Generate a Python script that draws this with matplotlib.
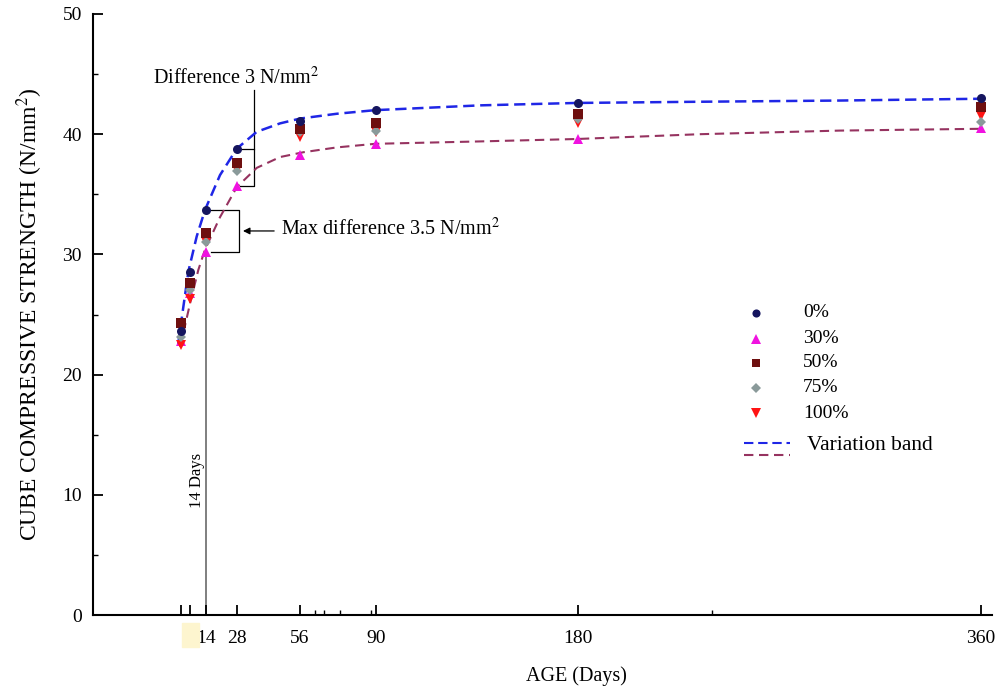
import matplotlib as mpl
mpl.use("Agg")
import matplotlib.pyplot as plt
from matplotlib.patches import Rectangle

# ages (days) and cube strength (N/mm2) per replacement level
AGES = [3, 7, 14, 28, 56, 90, 180, 360]
S_0 = [23.6, 28.5, 33.7, 38.8, 41.1, 42.0, 42.6, 43.0]
S_30 = [22.8, 26.8, 30.2, 35.7, 38.3, 39.2, 39.6, 40.5]
S_50 = [24.3, 27.6, 31.8, 37.6, 40.4, 40.9, 41.7, 42.3]
S_75 = [23.1, 27.0, 31.0, 36.9, 40.2, 40.3, 41.3, 41.0]
S_100 = [22.5, 26.3, 31.0, 37.0, 39.8, 40.2, 40.9, 41.5]

# variation band
UPPER_X = [1.7, 4.0, 6.3, 10.0, 13.7, 20.4, 27.9, 36.8, 47.2, 56.1, 72.5, 89.6, 136.6, 179.6, 234.6, 297, 360]
UPPER_Y = [22.5, 25.6, 28.6, 31.5, 33.7, 36.6, 38.8, 40.2, 40.9, 41.3, 41.7, 42.0, 42.4, 42.6, 42.7, 42.8, 42.95]
LOWER_X = [2.6, 7.0, 10.7, 13.7, 20.4, 27.9, 36.8, 47.2, 57.6, 72.5, 89.6, 136.6, 179.6, 234.6, 297, 360]
LOWER_Y = [22.3, 25.9, 28.7, 30.4, 33.1, 35.6, 37.2, 38.1, 38.5, 38.9, 39.2, 39.4, 39.6, 40.0, 40.3, 40.45]

XTICKS = [3, 7, 14, 28, 56, 90, 180, 360]
XTICK_LABELS = ["", "", "14", "28", "56", "90", "180", "360"]
X_MINOR = [63, 67, 74, 88, 240]

SERIES = [
    ("30%", S_30, "^", "#f012e0", 7.5),
    ("100%", S_100, "v", "#ff1414", 7.5),
    ("75%", S_75, "D", "#8a9a9a", 5.5),
    ("50%", S_50, "s", "#6e0f0f", 6.5),
    ("0%", S_0, "o", "#15155f", 6.5),
]
LEGEND_ORDER = ["0%", "30%", "50%", "75%", "100%"]
BLUE = "#1f26e6"
MAROON = "#963360"
BLUE_DASH = (0, (4.5, 2.3))
MAROON_DASH = (0, (4.5, 2.7))

plt.rcParams.update({
    "font.family": "Liberation Serif",
    "mathtext.fontset": "stix",
    "font.size": 14,
})

fig = plt.figure(figsize=(10.02, 6.93), dpi=100)
W, H = 1002, 693
ax = fig.add_axes([93 / W, (H - 615) / H, (992 - 93) / W, (615 - 14) / H])

ax.plot(UPPER_X, UPPER_Y, color=BLUE, linestyle=BLUE_DASH, linewidth=1.8, zorder=2)
ax.plot(LOWER_X, LOWER_Y, color=MAROON, linestyle=MAROON_DASH, linewidth=1.5, zorder=2)

handles = {}
for label, vals, marker, color, ms in SERIES:
    ax.plot(AGES, vals, linestyle="none", marker=marker, color=color,
            markersize=ms, markeredgewidth=0, zorder=3)
    handles[label] = (marker, color, ms)

# 14-day marker line
ax.plot([14, 14], [0, S_30[2]], color="#6a6a6a", linewidth=1.2, zorder=1)
ax.text(10.0, 11.2, "14 Days", rotation=90, ha="center", va="center", fontsize=12)

# bracket: difference at 28 days
bx0, bx1 = 29.3, 35.6
ax.plot([bx0, bx1, bx1, bx0], [S_0[3], S_0[3], S_30[3], S_30[3]], color="black", linewidth=0.9, zorder=1)
ax.plot([bx1, bx1], [S_0[3], 43.7], color="black", linewidth=0.9, zorder=1)
ax.text(-9.5, 44.7, "Difference 3 N/mm$^2$", ha="left", va="center", fontsize=14.5)

# bracket: max difference at 14 days
mx0, mx1 = 16.3, 29.0
ax.plot([mx0, mx1, mx1, mx0], [S_0[2], S_0[2], S_30[2], S_30[2]], color="black", linewidth=0.9, zorder=1)
ymid = (S_0[2] + S_30[2]) / 2
ax.annotate("", xy=(mx1 + 0.4, ymid), xytext=(45.8, ymid),
            arrowprops=dict(arrowstyle="-|>", color="black", lw=0.9, mutation_scale=10))
ax.text(47.6, ymid + 0.2, "Max difference 3.5 N/mm$^2$", ha="left", va="center", fontsize=14.5)

ax.set_xlim(-36.3, 365)
ax.set_ylim(0, 50)
ax.set_xticks(XTICKS)
ax.set_xticklabels(XTICK_LABELS)
ax.set_xticks(X_MINOR, minor=True)
ax.set_yticks(range(0, 51, 10))
ax.set_yticks(range(5, 50, 10), minor=True)
ax.tick_params(direction="in", length=7, width=1.3, labelsize=14, pad=8)
ax.tick_params(axis="x", pad=11)
ax.tick_params(which="minor", direction="in", length=3.5, width=1.0)
ax.spines["top"].set_visible(False)
ax.spines["right"].set_visible(False)
ax.spines["left"].set_linewidth(1.5)
ax.spines["bottom"].set_linewidth(1.5)
ax.set_xlabel("AGE (Days)", fontsize=14.5, va="center")
ax.xaxis.set_label_coords(0.538, -0.1015)
ax.set_ylabel("CUBE COMPRESSIVE STRENGTH (N/mm$^2$)", fontsize=17, va="center")
ax.yaxis.set_label_coords(-0.07, 0.5)

# highlight under the unlabeled early-age ticks
fig.patches.append(Rectangle((182 / W, (H - 647) / H), 17 / W, 24 / H,
                             transform=fig.transFigure, color="#fdf5cf", zorder=0))

# legend drawn by hand to match the layout
tr = ax.transAxes
rows_y = [0.503, 0.460, 0.420, 0.378, 0.336]
for label, y in zip(LEGEND_ORDER, rows_y):
    marker, color, ms = handles[label]
    ax.plot([0.7375], [y], marker=marker, color=color, markersize=ms * 0.9,
            markeredgewidth=0, transform=tr, clip_on=False)
    ax.text(0.790, y, label, transform=tr, ha="left", va="center", fontsize=14)
ax.plot([0.724, 0.7755], [0.2857, 0.2857], color=BLUE, linestyle=BLUE_DASH, linewidth=1.5, transform=tr)
ax.plot([0.724, 0.7755], [0.2662, 0.2662], color=MAROON, linestyle=MAROON_DASH, linewidth=1.5, transform=tr)
ax.text(0.7945, 0.2817, "Variation band", transform=tr, ha="left", va="center", fontsize=15.5)

fig.savefig("out.png", dpi=100)
